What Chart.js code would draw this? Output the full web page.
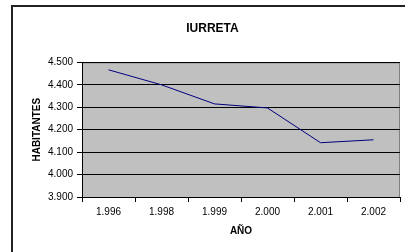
<!DOCTYPE html>
<html>
<head>
<meta charset="utf-8">
<script src="https://cdn.jsdelivr.net/npm/chart.js@4"></script>
<style>
  html, body { margin: 0; padding: 0; background: #fff; overflow: hidden; }
  #wrap { position: relative; width: 405px; height: 252px; }
</style>
</head>
<body>
<div id="wrap"><canvas id="chart" width="405" height="252"></canvas></div>
<script>
const years = ['1.996', '1.998', '1.999', '2.000', '2.001', '2.002'];
const habitantes = [4467, 4400, 4315, 4297, 4142, 4155];
const yMin = 3900;
const yMax = 4500;
const yStep = 100;

const fmt = v => String(v).replace(/\B(?=(\d{3})+(?!\d))/g, '.');

const frameAndPlot = {
    id: 'frameAndPlot',
    beforeDraw(chart) {
        const ctx = chart.ctx;
        const a = chart.chartArea;
        ctx.save();
        ctx.fillStyle = '#ffffff';
        ctx.fillRect(0, 0, chart.width, chart.height);
        // outer frame, right and bottom edges fall outside the picture
        ctx.fillStyle = '#222';
        ctx.fillRect(11, 5, chart.width - 11, 2);
        ctx.fillRect(11, 5, 2, chart.height - 5);
        ctx.fillStyle = '#c0c0c0';
        ctx.fillRect(a.left, a.top, a.right - a.left, a.bottom - a.top);
        ctx.strokeStyle = '#808080';
        ctx.lineWidth = 1;
        ctx.beginPath();
        ctx.moveTo(a.left, a.top + 0.5);
        ctx.lineTo(a.right - 0.5, a.top + 0.5);
        ctx.lineTo(a.right - 0.5, a.bottom);
        ctx.stroke();
        ctx.restore();
    }
};

new Chart(document.getElementById('chart').getContext('2d'), {
    type: 'line',
    data: {
        labels: years,
        datasets: [{
            data: habitantes,
            borderColor: '#000080',
            borderWidth: 1,
            pointRadius: 0,
            tension: 0,
            fill: false
        }]
    },
    options: {
        responsive: false,
        animation: false,
        layout: { padding: { left: 25, right: 5, top: 20, bottom: 0 } },
        scales: {
            x: {
                offset: true,
                grid: { display: true, drawOnChartArea: false, drawTicks: true, tickLength: 5, color: '#000', offset: true },
                border: { color: '#000', width: 1 },
                ticks: { color: '#000', font: { family: 'Liberation Sans, Arial', size: 10 }, padding: 4, maxRotation: 0 },
                title: { display: true, text: 'AÑO', color: '#000', font: { family: 'Liberation Sans, Arial', size: 10, weight: 'bold' }, padding: { top: 0, bottom: 15 } },
                afterFit(scale) { scale.height = 55; }
            },
            y: {
                min: yMin,
                max: yMax,
                grid: { color: '#000', tickLength: 5, lineWidth: 1 },
                border: { color: '#000', width: 1 },
                ticks: { stepSize: yStep, color: '#000', font: { family: 'Liberation Sans, Arial', size: 10 }, padding: 4, callback: v => fmt(v) },
                title: { display: true, text: 'HABITANTES', color: '#000', font: { family: 'Liberation Sans, Arial', size: 10, weight: 'bold' }, padding: { top: 6, bottom: 0 } },
                afterFit(scale) { scale.width = 57; }
            }
        },
        plugins: {
            legend: { display: false },
            tooltip: { enabled: false },
            title: {
                display: true,
                text: 'IURRETA',
                color: '#000',
                font: { family: 'Liberation Sans, Arial', size: 12, weight: 'bold' },
                padding: { top: 1, bottom: 27 }
            }
        }
    },
    plugins: [frameAndPlot]
});
</script>
</body>
</html>
